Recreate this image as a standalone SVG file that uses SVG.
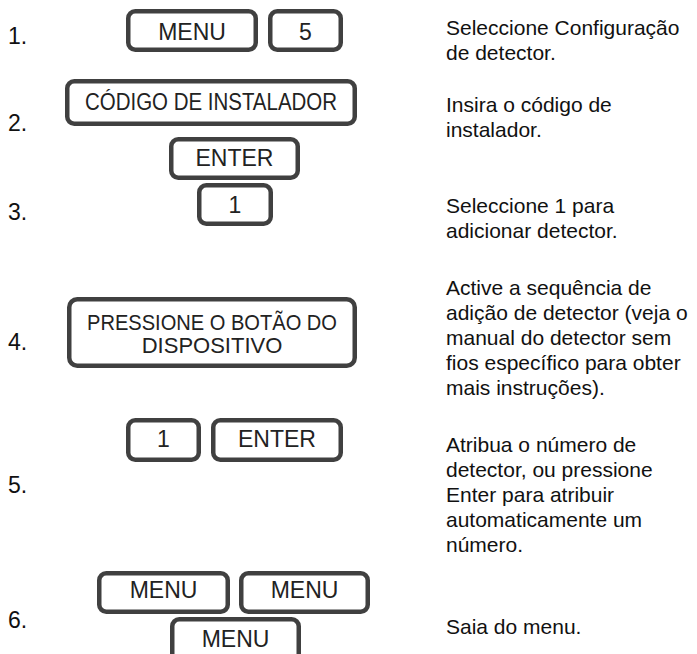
<svg xmlns="http://www.w3.org/2000/svg" width="697" height="654" viewBox="0 0 697 654">
<style>
.k{fill:#fff;stroke:#404040;stroke-width:4.5}
.kt{font-family:"Liberation Sans",Arial,sans-serif;font-size:23px;fill:#222;text-anchor:middle}
.kt2{font-family:"Liberation Sans",Arial,sans-serif;font-size:22px;fill:#222;text-anchor:middle}
.n{font-family:"Liberation Sans",Arial,sans-serif;font-size:23px;fill:#111}
.d{font-family:"Liberation Sans",Arial,sans-serif;font-size:21px;fill:#111}
</style>
<rect width="697" height="654" fill="#fff"/>
<g id="labels">
<text class="n" x="8" y="44">1.</text>
<text class="n" x="8" y="131">2.</text>
<text class="n" x="8" y="220">3.</text>
<text class="n" x="8" y="350">4.</text>
<text class="n" x="8" y="493">5.</text>
<text class="n" x="8" y="628">6.</text>
</g>
<g id="step1-menu"><rect class="k" x="128.25" y="11.25" width="127.5" height="38.5" rx="7"/><text class="kt" x="192" y="40">MENU</text></g>
<g id="step1-5"><rect class="k" x="270.25" y="11.25" width="70.5" height="38.5" rx="7"/><text class="kt" x="305.5" y="40">5</text></g>
<g id="step2-code"><rect class="k" x="67.25" y="81.25" width="287.5" height="42.5" rx="7"/><text class="kt" x="211" y="110" textLength="252" lengthAdjust="spacingAndGlyphs">CÓDIGO DE INSTALADOR</text></g>
<g id="step2-enter"><rect class="k" x="171.25" y="139.25" width="126.5" height="38.5" rx="7"/><text class="kt" x="234.5" y="166">ENTER</text></g>
<g id="step3-1"><rect class="k" x="199.25" y="185.25" width="71.5" height="38.5" rx="7"/><text class="kt" x="235" y="213">1</text></g>
<g id="step4-press"><rect class="k" x="69.25" y="299.25" width="285.5" height="66.5" rx="8"/><text class="kt2" x="212" y="330" textLength="250" lengthAdjust="spacingAndGlyphs">PRESSIONE O BOTÃO DO</text><text class="kt2" x="212" y="353">DISPOSITIVO</text></g>
<g id="step5-1"><rect class="k" x="128.25" y="420.25" width="70.5" height="39.5" rx="7"/><text class="kt" x="163.5" y="447">1</text></g>
<g id="step5-enter"><rect class="k" x="213.25" y="420.25" width="127.5" height="39.5" rx="7"/><text class="kt" x="277" y="447">ENTER</text></g>
<g id="step6-menu1"><rect class="k" x="99.25" y="573.25" width="128.5" height="38.5" rx="7"/><text class="kt" x="163.5" y="598">MENU</text></g>
<g id="step6-menu2"><rect class="k" x="241.25" y="573.25" width="126.5" height="38.5" rx="7"/><text class="kt" x="304.5" y="598">MENU</text></g>
<g id="step6-menu3"><rect class="k" x="172.25" y="619.25" width="126.5" height="45" rx="7"/><text class="kt" x="235.5" y="647">MENU</text></g>
<g id="descriptions">
<text class="d" x="446" y="35">Seleccione Configuração</text>
<text class="d" x="446" y="60">de detector.</text>
<text class="d" x="446" y="112">Insira o código de</text>
<text class="d" x="446" y="137">instalador.</text>
<text class="d" x="446" y="213">Seleccione 1 para</text>
<text class="d" x="446" y="238">adicionar detector.</text>
<text class="d" x="446" y="295">Active a sequência de</text>
<text class="d" x="446" y="320">adição de detector (veja o</text>
<text class="d" x="446" y="345">manual do detector sem</text>
<text class="d" x="446" y="370">fios específico para obter</text>
<text class="d" x="446" y="395">mais instruções).</text>
<text class="d" x="446" y="452">Atribua o número de</text>
<text class="d" x="446" y="477">detector, ou pressione</text>
<text class="d" x="446" y="502">Enter para atribuir</text>
<text class="d" x="446" y="527">automaticamente um</text>
<text class="d" x="446" y="552">número.</text>
<text class="d" x="446" y="634">Saia do menu.</text>
</g>
</svg>
